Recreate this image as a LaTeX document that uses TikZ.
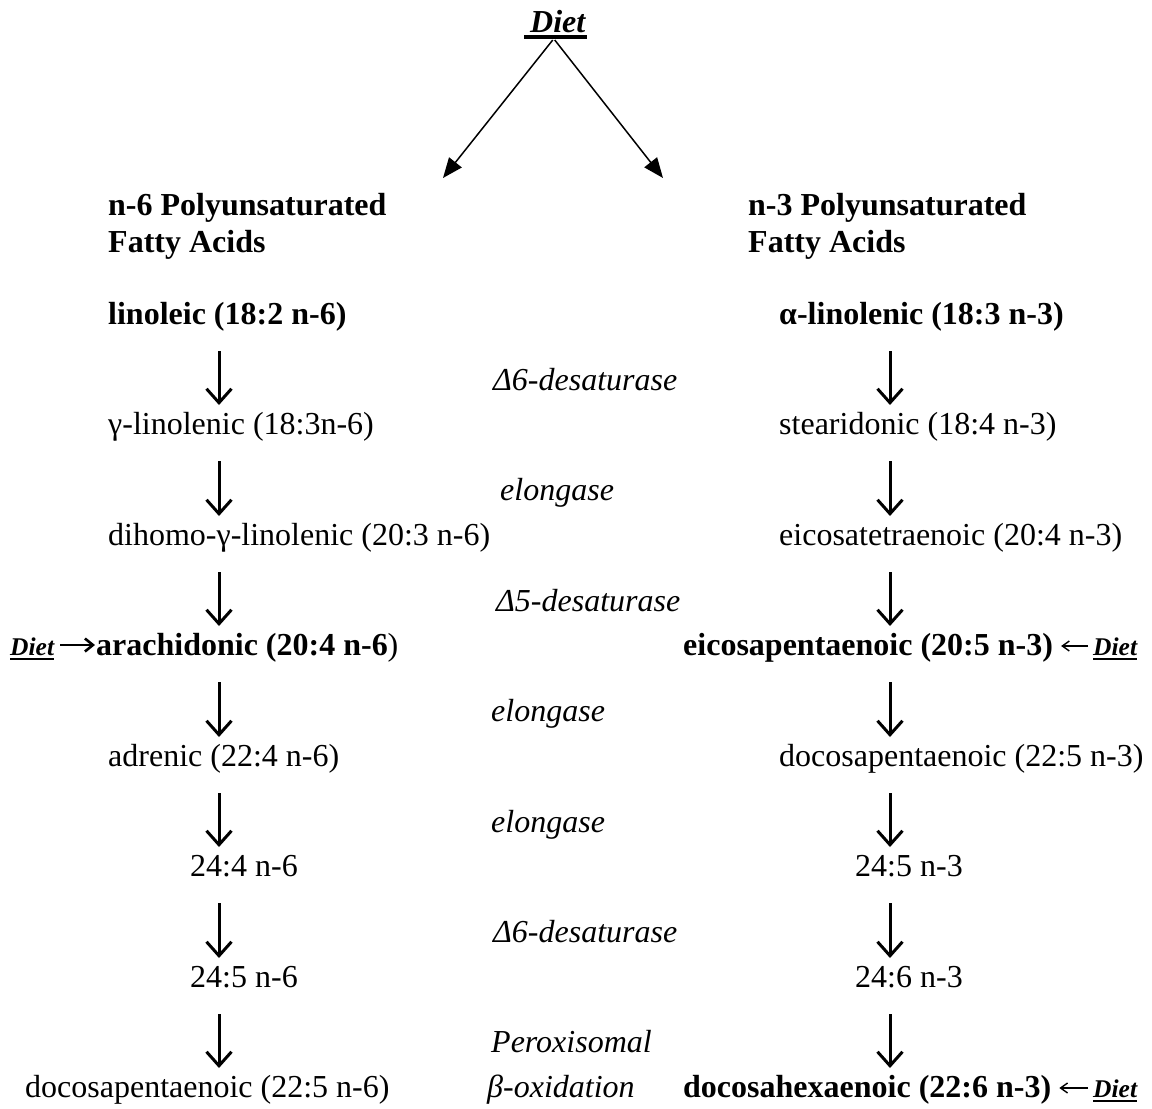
\documentclass[tikz,border=0pt]{standalone}
\usepackage{fontspec}
\setmainfont{Liberation Serif}
\usetikzlibrary{arrows.meta,calc}
\begin{document}
\begin{tikzpicture}[x=1pt,y=-1pt,
  txt/.style={font=\fontsize{32}{38}\selectfont, inner sep=0pt, anchor=base west},
  btxt/.style={txt, font=\fontsize{32}{38}\selectfont\bfseries},
  enz/.style={txt, font=\fontsize{32}{38}\selectfont\itshape},
  sml/.style={font=\fontsize{25.5}{30}\selectfont\bfseries\itshape, inner sep=0pt, anchor=base west},
  vdown/.style={line width=3pt, -{Straight Barb[length=14pt,width=25pt,line width=3pt]}},
  diag/.style={line width=1.5pt, -{Triangle[length=20pt,width=16pt]}},
  inbold/.style={line width=2.6pt, -{Straight Barb[length=8pt,width=13pt]}},
  inreg/.style={line width=1.4pt, -{Straight Barb[length=7pt,width=10pt]}},
  uline/.style={line width=3.2pt},
  suline/.style={line width=2.6pt}
]
\fill[white] (0,0) rectangle (1152,1109);
\useasboundingbox (0,0) rectangle (1152,1109);

% top
\node[txt, font=\fontsize{32}{38}\selectfont\bfseries\itshape] (DT) at (530,32) {Diet};
\draw[uline] ($(DT.base west)+(-6,5)$) -- ($(DT.base east)+(2,5)$);
\coordinate (n6t) at (443,178);
\coordinate (n3t) at (663,178);
\draw[diag] ($(DT.base)+(-5,8)$) -- (n6t);
\draw[diag] ($(DT.base)+(-3,8)$) -- (n3t);

% headings
\node[btxt] (H6a) at (108,215) {n-6 Polyunsaturated};
\node[btxt] (H6b) at (108,252) {Fatty Acids};
\node[btxt] (H3a) at (748,215) {n-3 Polyunsaturated};
\node[btxt] (H3b) at (748,252) {Fatty Acids};

% left column
\node[btxt] (L1) at (108,324) {linoleic (18:2 n-6)};
\node[txt]  (L2) at (108,434) {γ-linolenic (18:3n-6)};
\node[txt]  (L3) at (108,545) {dihomo-γ-linolenic (20:3 n-6)};
\node[txt]  (L4) at (96,655) {\textbf{arachidonic (20:4 n-6})};
\node[txt]  (L5) at (108,766) {adrenic (22:4 n-6)};
\node[txt]  (L6) at (190,876) {24:4 n-6};
\node[txt]  (L7) at (190,987) {24:5 n-6};
\node[txt]  (L8) at (25,1097) {docosapentaenoic (22:5 n-6)};

% right column
\node[btxt] (R1) at (779,324) {α-linolenic (18:3 n-3)};
\node[txt]  (R2) at (779,434) {stearidonic (18:4 n-3)};
\node[txt]  (R3) at (779,545) {eicosatetraenoic (20:4 n-3)};
\node[btxt] (R4) at (683,655) {eicosapentaenoic (20:5 n-3)};
\node[txt]  (R5) at (779,766) {docosapentaenoic (22:5 n-3)};
\node[txt]  (R6) at (855,876) {24:5 n-3};
\node[txt]  (R7) at (855,987) {24:6 n-3};
\node[btxt] (R8) at (683,1097) {docosahexaenoic (22:6 n-3)};

% enzymes
\node[enz] (E1) at (493,390) {Δ6-desaturase};
\node[enz] (E2) at (500,500) {elongase};
\node[enz] (E3) at (496,611) {Δ5-desaturase};
\node[enz] (E4) at (491,721) {elongase};
\node[enz] (E5) at (491,832) {elongase};
\node[enz] (E6) at (493,942) {Δ6-desaturase};
\node[enz] (E7) at (491,1052) {Peroxisomal};
\node[enz] (E8) at (487,1097) {β-oxidation};

% vertical arrows
\coordinate (xL) at (219,0);
\coordinate (xR) at (890,0);
\foreach \i/\j in {1/2,2/3,3/4,4/5,5/6,6/7,7/8}{
  \draw[vdown] ($(L\i.base -| xL)+(0,27)$) -- ($(L\j.base -| xL)+(0,-29)$);
  \draw[vdown] ($(R\i.base -| xR)+(0,27)$) -- ($(R\j.base -| xR)+(0,-29)$);
}

% dietary inputs
\node[sml] (DL) at (10,655) {Diet};
\draw[suline] ($(DL.base west)+(0,4)$) -- ($(DL.base east)+(0,4)$);
\draw[inbold] ($(DL.base east)+(6,-10)$) -- ($(L4.base west)+(-1,-10)$);

\node[sml] (DR4) at (1093,655) {Diet};
\draw[suline] ($(DR4.base west)+(0,4)$) -- ($(DR4.base east)+(0,4)$);
\draw[inreg] ($(DR4.base west)+(-5,-9)$) -- ($(R4.base east)+(8,-9)$);

\node[sml] (DR8) at (1093,1097) {Diet};
\draw[suline] ($(DR8.base west)+(0,4)$) -- ($(DR8.base east)+(0,4)$);
\draw[inreg] ($(DR8.base west)+(-5,-9)$) -- ($(R8.base east)+(8,-9)$);
\end{tikzpicture}
\end{document}
